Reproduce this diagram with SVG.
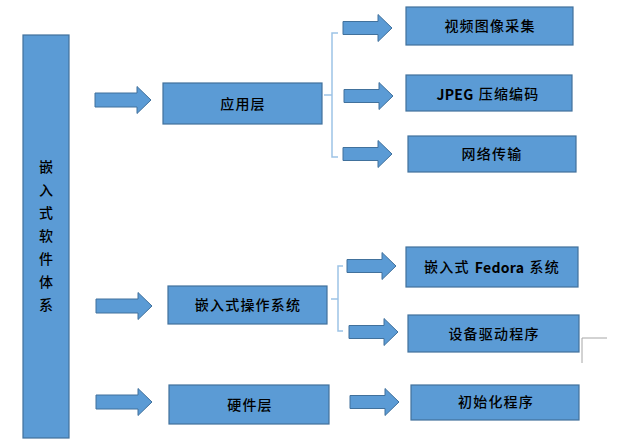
<svg xmlns="http://www.w3.org/2000/svg" width="620" height="442" viewBox="0 0 620 442">
<style>
.box{fill:#5b9bd5;stroke:#41719c;stroke-width:1.2}
.arr{fill:#5b9bd5;stroke:#41719c;stroke-width:1}
.br{fill:none;stroke:#9dc3e6;stroke-width:1.5}
.t{font-family:"Liberation Sans","Noto Sans CJK SC",sans-serif;font-size:14px;fill:#000;text-anchor:middle;dominant-baseline:central;font-weight:500;letter-spacing:1.2px}
.v{letter-spacing:0}
.lt{font-family:"Noto Sans CJK SC",sans-serif;font-weight:bold;letter-spacing:0.3px}
</style>
<defs>
<path id="arrL" class="arr" d="M0,-7 H42 V-13.5 L56,0 L42,13.5 V7 H0 Z"/>
<path id="arrR" class="arr" d="M0,-6.5 H35 V-13.5 L49,0 L35,13.5 V6.5 H0 Z"/>
</defs>
<rect width="620" height="442" fill="#fff"/>
<g id="root">
<rect class="box" x="23" y="35" width="46" height="403"/>
<text class="t v"><tspan x="46" y="167">嵌</tspan><tspan x="46" y="190">入</tspan><tspan x="46" y="213">式</tspan><tspan x="46" y="236">软</tspan><tspan x="46" y="259">件</tspan><tspan x="46" y="282">体</tspan><tspan x="46" y="305">系</tspan></text>
</g>
<g id="app"><rect class="box" x="163" y="83" width="159" height="41"/><text class="t" x="243" y="104">应用层</text></g>
<g id="os"><rect class="box" x="168" y="286" width="159" height="38"/><text class="t" x="248" y="305">嵌入式操作系统</text></g>
<g id="hw"><rect class="box" x="169" y="385" width="160" height="39"/><text class="t" x="250" y="405">硬件层</text></g>
<g id="video"><rect class="box" x="406" y="7" width="167" height="38"/><text class="t" x="490" y="26">视频图像采集</text></g>
<g id="jpeg"><rect class="box" x="406" y="75" width="166" height="36"/><text class="t" x="488" y="94"><tspan class="lt">JPEG</tspan> 压缩编码</text></g>
<g id="net"><rect class="box" x="408" y="136" width="168" height="36"/><text class="t" x="492" y="154">网络传输</text></g>
<g id="fedora"><rect class="box" x="406" y="247" width="172" height="40"/><text class="t" x="492" y="267">嵌入式 <tspan class="lt">Fedora</tspan> 系统</text></g>
<g id="driver"><rect class="box" x="408" y="315" width="171" height="37"/><text class="t" x="494" y="334">设备驱动程序</text></g>
<g id="init"><rect class="box" x="411" y="385" width="168" height="35"/><text class="t" x="496" y="402">初始化程序</text></g>
<g id="connectors">
<use href="#arrL" x="95" y="100"/>
<use href="#arrL" x="96" y="306"/>
<use href="#arrL" x="96" y="402"/>
<use href="#arrR" x="343" y="28"/>
<use href="#arrR" x="344" y="96"/>
<use href="#arrR" x="343" y="154"/>
<use href="#arrR" x="347" y="266"/>
<use href="#arrR" x="349" y="332"/>
<use href="#arrR" x="350" y="402"/>
<path class="br" d="M338,33 H332 V157 H338 M324,95 H332"/>
<path class="br" d="M343,266 H338 V331 H343 M331,299 H338"/>
<path d="M582,363 V338 H607" fill="none" stroke="#a6a6a6" stroke-width="1"/>
</g>
</svg>
